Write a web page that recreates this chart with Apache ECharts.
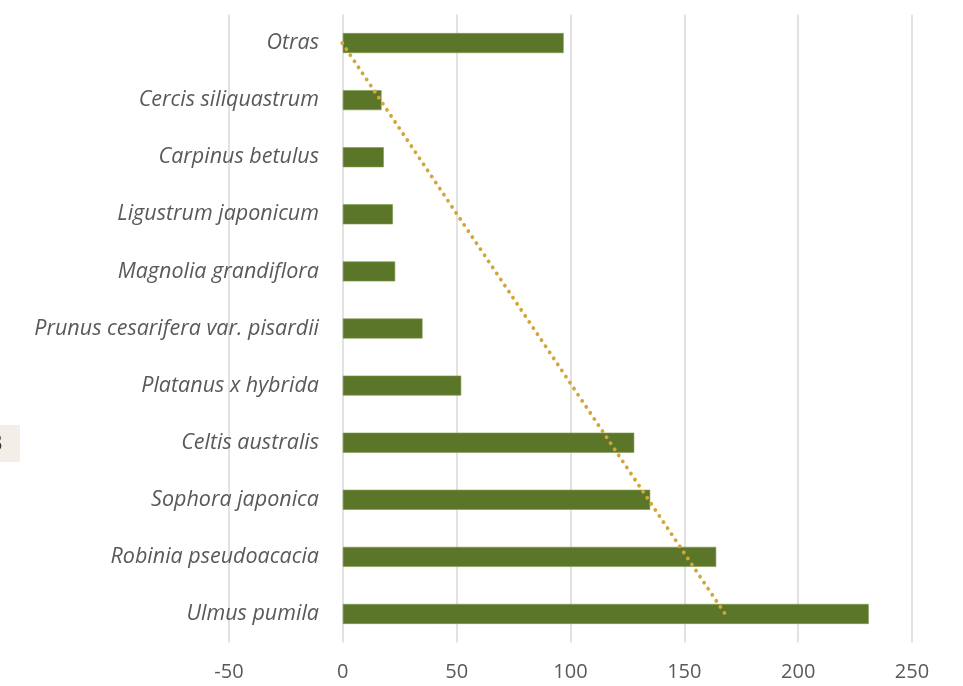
<!DOCTYPE html>
<html><head><meta charset="utf-8">
<script src="https://cdn.jsdelivr.net/npm/echarts@6/dist/echarts.min.js"></script>
<style>html,body{margin:0;padding:0;background:#fff}#c{width:963px;height:686px}</style>
</head><body><div id="c"></div>
<script>
const categories = ["Otras","Cercis siliquastrum","Carpinus betulus","Ligustrum japonicum","Magnolia grandiflora","Prunus cesarifera var. pisardii","Platanus x hybrida","Celtis australis","Sophora japonica","Robinia pseudoacacia","Ulmus pumila"];
const values = [97,17,18,22,23,35,52,128,135,164,231];
const xTicks = {min:-50, max:250, interval:50};

// linear trendline (least squares over category order)
const n = values.length;
const xs = values.map((_,i)=>i);
const mx = xs.reduce((a,b)=>a+b,0)/n, my = values.reduce((a,b)=>a+b,0)/n;
let sxy=0,sxx=0; xs.forEach((x,i)=>{sxy+=(x-mx)*(values[i]-my); sxx+=(x-mx)*(x-mx);});
const slope = sxy/sxx;
const trend = xs.map(x=>+(my+slope*(x-mx)).toFixed(2));

const chart = echarts.init(document.getElementById('c'));
chart.setOption({
  animation:false,
  grid:{left:229,right:51,top:14.5,bottom:43.5,containLabel:false},
  xAxis:{type:'value',min:xTicks.min,max:xTicks.max,interval:xTicks.interval,
    axisLine:{show:false},axisTick:{show:false},
    axisLabel:{color:'#595959',fontSize:20,fontFamily:'"Open Sans", sans-serif',margin:20},
    splitLine:{show:true,lineStyle:{color:'#d9d9d9',width:1.5}}},
  yAxis:{type:'category',data:categories,inverse:true,
    axisLine:{show:false},axisTick:{show:false},
    axisLabel:{color:'#595959',fontSize:21.5,fontStyle:'italic',fontFamily:'"Open Sans", sans-serif',margin:-90,padding:[3,0,0,0]},
    z:5},
  graphic:[
    {type:'rect',shape:{x:0,y:425,width:20,height:37},style:{fill:'#f3efe8'}},
    {type:'text',style:{x:-11,y:444,text:'3',fontSize:24,fill:'#333',fontFamily:'"Open Sans", sans-serif',textVerticalAlign:'middle'}}
  ],
  series:[
    {type:'bar',data:values,barWidth:20,itemStyle:{color:'#5b7628',borderColor:'#7f9a4f',borderWidth:0.6},z:2},
    {type:'line',data:trend,symbol:'none',z:3,
      lineStyle:{color:'#d4a63a',width:3.8,type:[0.1,7.2],cap:'round'}}
  ]
});
</script></body></html>
